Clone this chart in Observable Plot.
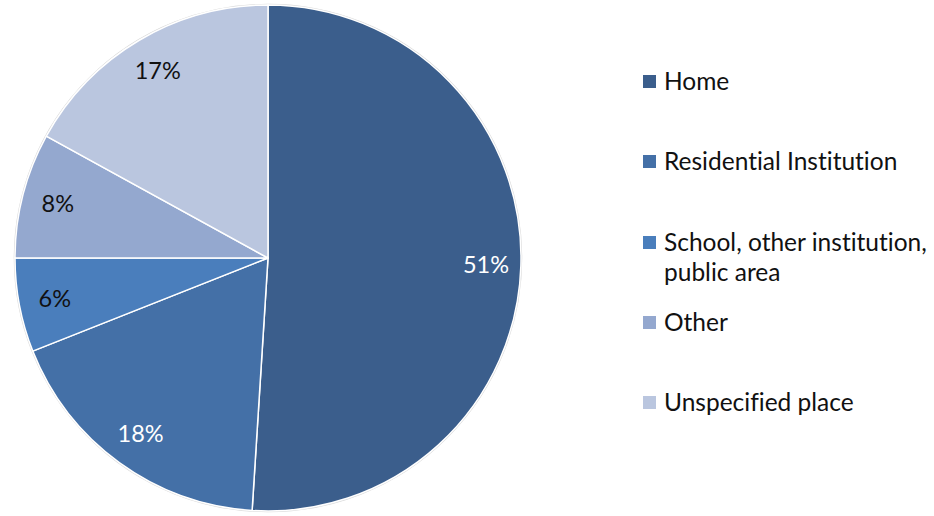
<!DOCTYPE html>
<html>
<head>
<meta charset="utf-8">
<script src="https://cdn.jsdelivr.net/npm/d3@7"></script>
<script src="https://cdn.jsdelivr.net/npm/@observablehq/plot@0.6"></script>
<style>
  html, body { margin: 0; padding: 0; background: #fff; }
  #wrap { position: relative; width: 934px; height: 516px; font-family: Lato, "Open Sans", sans-serif; font-variant-ligatures: none; }
  #legend { position: absolute; left: 0; top: 0; width: 934px; height: 516px; pointer-events: none; }
  .item { position: absolute; left: 643px; display: flex; align-items: flex-start; font-size: 24.5px; line-height: 30px; color: #111; white-space: nowrap; }
  .sw { width: 13px; height: 13px; margin-top: 9px; margin-right: 8px; flex: none; }
  svg text { font-variant-ligatures: none; }
</style>
</head>
<body>
<div id="wrap"><div id="chart"></div><div id="legend"></div></div>
<script>
const categories = ["Home", "Residential Institution", "School, other institution, public area", "Other", "Unspecified place"];
const legendLines = [["Home"], ["Residential Institution"], ["School, other institution,", "public area"], ["Other"], ["Unspecified place"]];
const shares = [51, 18, 6, 8, 17];
const colors = ["#3B5E8C", "#4470A7", "#4A7EBC", "#94A8CF", "#BAC6DF"];
const legendTops = [66, 146, 227, 307, 387];

const data = categories.map((c, i) => ({category: c, share: shares[i], label: shares[i] + "%"}));
const arcs = d3.pie().sort(null).value(d => d.share)(data);
const labelR = 0.86;
const labelData = arcs.map((a, i) => {
  const mid = (a.startAngle + a.endAngle) / 2;
  return {label: a.data.label, x: labelR * Math.sin(mid), y: labelR * Math.cos(mid), dark: i < 2};
});

function pieMark(index, scales) {
  const cx = scales.x(0), cy = scales.y(0), r = scales.x(1) - scales.x(0);
  const color = scales.color || d3.scaleOrdinal(categories, colors);
  const g = d3.create("svg:g").attr("transform", `translate(${cx},${cy})`);
  g.append("circle").attr("r", r + 0.5).attr("fill", "none").attr("stroke", "#d8d8d8").attr("stroke-width", 1.5);
  const arc = d3.arc().innerRadius(0).outerRadius(r);
  g.selectAll("path").data(arcs).join("path")
    .attr("d", arc)
    .attr("fill", d => color(d.data.category))
    .attr("stroke", "#fff")
    .attr("stroke-width", 1.5)
    .attr("stroke-linejoin", "round");
  return g.node();
}

const chart = Plot.plot({
  width: 934,
  height: 516,
  margin: 0,
  x: {domain: [-1, 1], range: [15, 521], axis: null},
  y: {domain: [-1, 1], range: [511, 5], axis: null},
  color: {domain: categories, range: colors},
  style: {fontFamily: "Lato, 'Open Sans', sans-serif", background: "#fff"},
  marks: [
    Plot.dot(data, {x: () => 0, y: () => 0, fill: "category", r: 0}),
    pieMark,
    Plot.text(labelData.filter(d => d.dark), {x: "x", y: "y", text: "label", fill: "#fff", fontSize: 23.5}),
    Plot.text(labelData.filter(d => !d.dark), {x: "x", y: "y", text: "label", fill: "#111", fontSize: 23.5})
  ]
});
document.getElementById("chart").appendChild(chart);

const legend = d3.select("#legend");
categories.forEach((c, i) => {
  const item = legend.append("div").attr("class", "item").style("top", legendTops[i] + "px");
  item.append("div").attr("class", "sw").style("background", colors[i]);
  item.append("div").html(legendLines[i].join("<br>"));
});
</script>
</body>
</html>
